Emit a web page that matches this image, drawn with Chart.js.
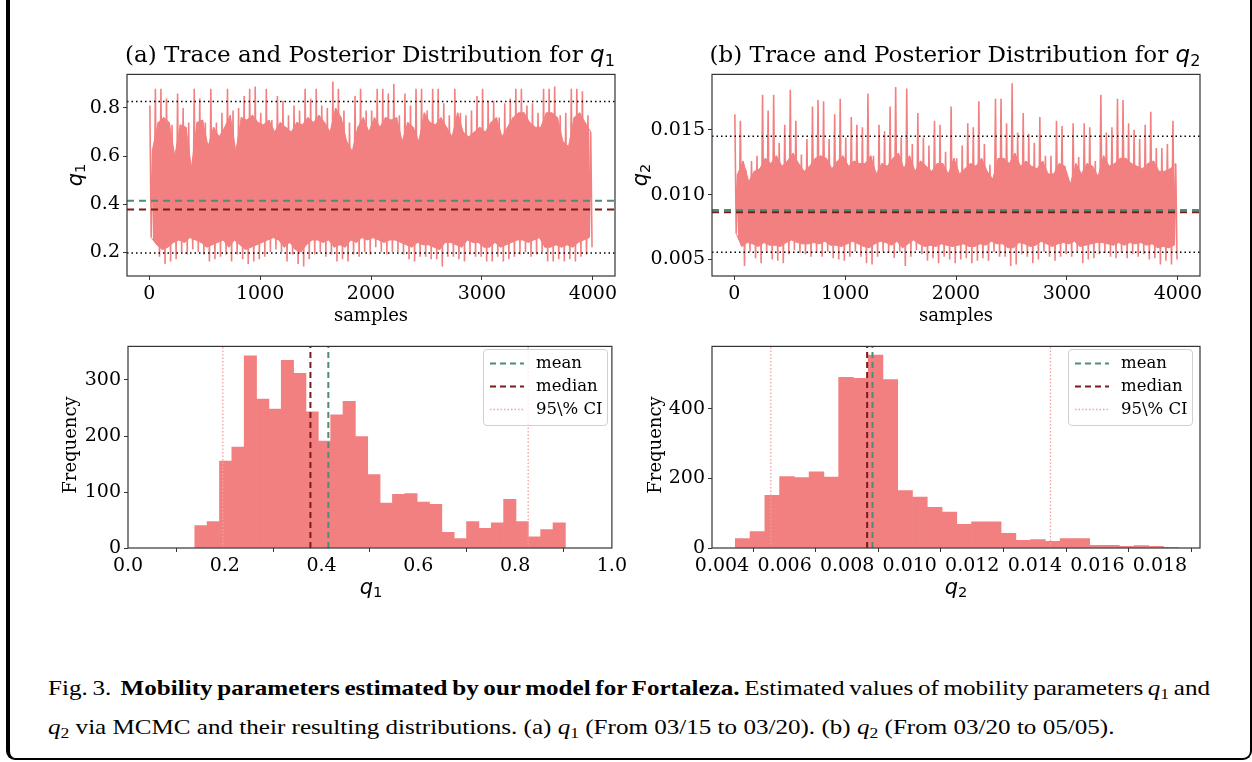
<!DOCTYPE html>
<html>
<head>
<meta charset="utf-8">
<script src="https://cdn.jsdelivr.net/npm/chart.js@4.4.1/dist/chart.umd.min.js"></script>
<style>
  body { margin: 0; background: #fff; }
  #page { position: relative; width: 1252px; height: 762px; overflow: hidden; background: #fff; }
  #frame { position: absolute; left: 6px; top: -20px; width: 1240px; height: 778px;
    border-left: 4px solid #000; border-right: 2px solid #000; border-bottom: 2px solid #000;
    border-bottom-left-radius: 9px; border-bottom-right-radius: 9px; }
  canvas { position: absolute; }
  .txt { position: absolute; font-family: "DejaVu Serif", serif; color: #000; white-space: nowrap;
    line-height: 1; transform: translate(-50%, -50%); }
  .rot { transform: translate(-50%, -50%) rotate(-90deg); }
  .title { font-size: 23px; }
  .lab { font-size: 18px; }
  .ml { font-size: 21px; }
  .m { font-family: "DejaVu Sans", sans-serif; font-style: italic; }
  .m sub { font-style: normal; font-size: 70%; vertical-align: -0.25em; line-height: 0; }
  .legend { position: absolute; border: 1px solid #d0d0d0; border-radius: 4px; background: rgba(255,255,255,0.8);
    font-family: "DejaVu Serif", serif; font-size: 16.5px; }
  .legend div { position: absolute; left: 0; height: 20px; line-height: 20px; white-space: nowrap; }
  .legend svg { position: absolute; left: 6px; top: 9px; }
  .legend span { position: absolute; left: 52px; top: 0; }
  .cap { position: absolute; left: 48px; font-family: "Liberation Serif", "Times New Roman", serif;
    font-size: 22px; line-height: 1; white-space: nowrap; transform: scaleX(1.14); transform-origin: 0 0; }
  .cap i { font-style: italic; }
  .cap sub { font-size: 70%; vertical-align: -0.25em; line-height: 0; }
</style>
</head>
<body>
<div id="page">
  <div id="frame"></div>
  <canvas id="traceA" width="603" height="256"></canvas>
  <canvas id="traceB" width="603" height="256"></canvas>
  <canvas id="histA" width="603" height="256"></canvas>
  <canvas id="histB" width="603" height="256"></canvas>

  <div class="txt title" style="left:370px; top:54px;">(a) Trace and Posterior Distribution for <span class="m">q<sub>1</sub></span></div>
  <div class="txt title" style="left:955px; top:54px;">(b) Trace and Posterior Distribution for <span class="m">q<sub>2</sub></span></div>
  <div class="txt lab" style="left:371px; top:315px;">samples</div>
  <div class="txt lab" style="left:956px; top:315px;">samples</div>
  <div class="txt ml rot" style="left:75px; top:175px;"><span class="m">q<sub>1</sub></span></div>
  <div class="txt ml rot" style="left:640px; top:175px;"><span class="m">q<sub>2</sub></span></div>
  <div class="txt lab rot" style="left:70px; top:445px;">Frequency</div>
  <div class="txt lab rot" style="left:655px; top:445px;">Frequency</div>
  <div class="txt ml" style="left:371px; top:587px;"><span class="m">q<sub>1</sub></span></div>
  <div class="txt ml" style="left:956px; top:587px;"><span class="m">q<sub>2</sub></span></div>

  <div class="legend" id="legA" style="left:483px; top:349px; width:123px; height:75px;"></div>
  <div class="legend" id="legB" style="left:1068px; top:349px; width:123px; height:75px;"></div>

  <div class="cap" style="top:677px; word-spacing:-1.4px;">Fig. 3.&nbsp; <b>Mobility parameters estimated by our model for Fortaleza.</b> Estimated values of mobility parameters <i>q</i><sub>1</sub> and</div>
  <div class="cap" style="top:716px;"><i>q</i><sub>2</sub> via MCMC and their resulting distributions. (a) <i>q</i><sub>1</sub> (From 03/15 to 03/20). (b) <i>q</i><sub>2</sub> (From 03/20 to 05/05).</div>
</div>

<script>
// trace read off per block of 50 samples: extreme high, extreme low,
// and the upper / lower edge of the dense part of the band
const traceBin = 50;
const q1TraceHi = [0.81,0.88,0.88,0.84,0.73,0.86,0.80,0.74,0.88,0.84, 0.74,0.88,0.74,0.78,0.88,0.79,0.80,0.85,0.88,0.89,
  0.78,0.88,0.75,0.85,0.83,0.77,0.81,0.79,0.88,0.84, 0.88,0.81,0.80,0.91,0.88,0.79,0.74,0.85,0.88,0.79,
  0.79,0.88,0.88,0.86,0.90,0.77,0.86,0.81,0.88,0.88, 0.79,0.88,0.88,0.82,0.77,0.88,0.78,0.77,0.79,0.85,
  0.88,0.83,0.83,0.76,0.82,0.84,0.88,0.88,0.81,0.82, 0.78,0.88,0.88,0.89,0.77,0.78,0.88,0.88,0.87,0.77];
const q1TraceLo = [0.25,0.18,0.15,0.16,0.17,0.20,0.19,0.21,0.20,0.19, 0.16,0.17,0.18,0.19,0.16,0.19,0.17,0.15,0.16,0.17,
  0.18,0.20,0.21,0.20,0.16,0.19,0.15,0.14,0.17,0.19, 0.20,0.18,0.19,0.16,0.17,0.16,0.19,0.18,0.20,0.19,
  0.22,0.20,0.19,0.20,0.20,0.19,0.17,0.16,0.18,0.18, 0.17,0.17,0.14,0.18,0.18,0.17,0.16,0.19,0.18,0.18,
  0.16,0.16,0.18,0.16,0.17,0.18,0.19,0.20,0.18,0.19, 0.20,0.16,0.16,0.17,0.16,0.17,0.16,0.18,0.19,0.22];
const q1DenseHi = [0.63,0.74,0.76,0.74,0.60,0.73,0.72,0.55,0.74,0.75, 0.64,0.72,0.68,0.72,0.77,0.62,0.76,0.75,0.77,0.74,
  0.73,0.75,0.70,0.74,0.72,0.70,0.74,0.73,0.76,0.74, 0.77,0.74,0.70,0.80,0.76,0.66,0.62,0.72,0.76,0.70,
  0.76,0.72,0.76,0.75,0.76,0.66,0.74,0.72,0.66,0.78, 0.74,0.73,0.76,0.72,0.68,0.78,0.70,0.68,0.70,0.72,
  0.70,0.74,0.76,0.68,0.72,0.76,0.78,0.78,0.74,0.72, 0.72,0.78,0.78,0.76,0.66,0.64,0.76,0.78,0.74,0.70];
const q1DenseLo = [0.26,0.23,0.21,0.22,0.24,0.25,0.24,0.26,0.25,0.24, 0.22,0.23,0.24,0.25,0.22,0.25,0.23,0.21,0.22,0.23,
  0.24,0.25,0.26,0.25,0.22,0.24,0.21,0.20,0.23,0.25, 0.25,0.24,0.25,0.22,0.23,0.22,0.25,0.24,0.26,0.25,
  0.26,0.25,0.24,0.25,0.25,0.24,0.23,0.22,0.24,0.23, 0.23,0.22,0.21,0.24,0.24,0.23,0.22,0.25,0.24,0.24,
  0.22,0.22,0.24,0.22,0.23,0.24,0.25,0.25,0.24,0.25, 0.26,0.22,0.22,0.23,0.22,0.23,0.22,0.24,0.25,0.26];

const q2TraceHi = [0.0162,0.0157,0.0119,0.0126,0.0130,0.0177,0.0165,0.0177,0.0140,0.0154,
  0.0181,0.0157,0.0131,0.0143,0.0168,0.0173,0.0172,0.0143,0.0162,0.0174,
  0.0144,0.0160,0.0154,0.0152,0.0178,0.0130,0.0154,0.0149,0.0168,0.0183,
  0.0144,0.0182,0.0139,0.0163,0.0144,0.0138,0.0157,0.0154,0.0133,0.0168,
  0.0128,0.0138,0.0155,0.0152,0.0172,0.0139,0.0123,0.0174,0.0174,0.0155,
  0.0186,0.0148,0.0163,0.0147,0.0140,0.0160,0.0130,0.0130,0.0157,0.0153,
  0.0113,0.0155,0.0129,0.0155,0.0152,0.0126,0.0177,0.0148,0.0152,0.0174,
  0.0173,0.0155,0.0150,0.0143,0.0154,0.0164,0.0136,0.0136,0.0139,0.0157];
const q2TraceLo = [0.0065,0.0045,0.0056,0.0051,0.0047,0.0055,0.0050,0.0049,0.0047,0.0054,
  0.0057,0.0055,0.0054,0.0052,0.0055,0.0052,0.0056,0.0051,0.0050,0.0049,
  0.0052,0.0056,0.0052,0.0047,0.0046,0.0052,0.0056,0.0055,0.0051,0.0056,
  0.0045,0.0052,0.0057,0.0054,0.0049,0.0051,0.0047,0.0052,0.0050,0.0047,
  0.0050,0.0051,0.0047,0.0049,0.0051,0.0049,0.0056,0.0052,0.0052,0.0045,
  0.0046,0.0054,0.0052,0.0047,0.0050,0.0056,0.0052,0.0049,0.0052,0.0054,
  0.0052,0.0056,0.0047,0.0050,0.0051,0.0054,0.0055,0.0052,0.0051,0.0055,
  0.0051,0.0054,0.0052,0.0054,0.0050,0.0051,0.0046,0.0049,0.0046,0.0050];
const q2DenseHi = [0.0116,0.0126,0.0110,0.0118,0.0120,0.0128,0.0124,0.0130,0.0122,0.0126,
  0.0132,0.0124,0.0118,0.0122,0.0128,0.0130,0.0128,0.0120,0.0126,0.0130,
  0.0122,0.0126,0.0124,0.0124,0.0130,0.0116,0.0124,0.0122,0.0128,0.0132,
  0.0120,0.0130,0.0118,0.0126,0.0122,0.0118,0.0124,0.0124,0.0116,0.0128,
  0.0116,0.0120,0.0124,0.0122,0.0128,0.0118,0.0112,0.0128,0.0128,0.0124,
  0.0132,0.0122,0.0126,0.0122,0.0120,0.0126,0.0116,0.0116,0.0124,0.0122,
  0.0108,0.0124,0.0116,0.0124,0.0122,0.0114,0.0130,0.0122,0.0124,0.0128,
  0.0128,0.0124,0.0122,0.0120,0.0124,0.0126,0.0118,0.0118,0.0120,0.0124];
const q2DenseLo = [0.0070,0.0060,0.0063,0.0062,0.0060,0.0063,0.0061,0.0061,0.0060,0.0063,
  0.0065,0.0063,0.0062,0.0062,0.0063,0.0062,0.0064,0.0061,0.0061,0.0060,
  0.0062,0.0064,0.0062,0.0060,0.0059,0.0062,0.0064,0.0063,0.0061,0.0064,
  0.0059,0.0062,0.0065,0.0062,0.0060,0.0061,0.0060,0.0062,0.0061,0.0060,
  0.0061,0.0062,0.0060,0.0060,0.0062,0.0061,0.0064,0.0062,0.0062,0.0059,
  0.0059,0.0063,0.0062,0.0060,0.0061,0.0064,0.0062,0.0060,0.0062,0.0063,
  0.0062,0.0064,0.0060,0.0061,0.0062,0.0063,0.0063,0.0062,0.0061,0.0063,
  0.0061,0.0063,0.0062,0.0063,0.0061,0.0062,0.0059,0.0060,0.0059,0.0061];

// summary statistics
const q1Mean = 0.414, q1Median = 0.377, q1CI = [0.196, 0.827];
const q2Mean = 0.00881, q2Median = 0.00864, q2CI = [0.00556, 0.0145];

// histograms (30 bins each)
const q1BinStart = 0.138, q1BinWidth = 0.02553;
const q1Counts = [40,47,155,180,343,266,248,335,312,243, 191,238,262,199,131,80,96,97,82,78,
  28,17,47,35,45,87,47,20,33,45];
const q2BinStart = 0.004425, q2BinWidth = 0.000472;
const q2Counts = [27,47,151,205,202,219,204,490,487,554, 484,165,146,117,103,68,75,75,42,22,
  24,19,27,27,8,8,5,7,5,2];

// axis ranges and ticks
const traceX = [-200, 4200], traceXTicks = [0, 1000, 2000, 3000, 4000];
const q1TraceY = [0.1, 0.94], q1TraceYTicks = [0.2, 0.4, 0.6, 0.8];
const q2TraceY = [0.00372, 0.01928], q2TraceYTicks = [0.005, 0.010, 0.015];
const q1HistX = [0, 1], q1HistXTicks = [0.0, 0.2, 0.4, 0.6, 0.8, 1.0];
const q1HistY = [0, 360], q1HistYTicks = [0, 100, 200, 300];
const q2HistX = [0.00368, 0.01928], q2HistXTicks = [0.004, 0.006, 0.008, 0.010, 0.012, 0.014, 0.016, 0.018];
const q2HistY = [0, 579], q2HistYTicks = [0, 200, 400];

const pink = '#F28080';
const meanColor = '#4F8A7B';
const medianColor = '#7A1A1A';
const ciColor = '#F4A0A0';
const tickFont = { family: 'DejaVu Serif', size: 19 };

const Y_W = 90, X_H = 40, PAD_T = 10, PAD_R = 15;

function placeCanvas(id, l, t, r, b) {
  const c = document.getElementById(id);
  c.width = (r - l) + Y_W + PAD_R;
  c.height = (b - t) + PAD_T + X_H;
  c.style.left = (l - Y_W) + 'px';
  c.style.top = (t - PAD_T) + 'px';
  return c;
}

function axis(range, ticks, dec, isX) {
  return {
    type: 'linear',
    min: range[0],
    max: range[1],
    offset: false,
    afterBuildTicks: s => { s.ticks = ticks.map(v => ({ value: v })); },
    afterFit: s => { if (isX) s.height = X_H; else s.width = Y_W; },
    grid: { drawOnChartArea: false, drawTicks: true, tickLength: 4, color: '#333', lineWidth: 1 },
    border: { display: false },
    ticks: { font: tickFont, color: '#000', padding: 3, maxRotation: 0, autoSkip: false,
      callback: v => v.toFixed(dec) }
  };
}

const spines = {
  id: 'spines',
  afterDatasetsDraw(chart) {
    const { ctx, chartArea: a } = chart;
    ctx.save();
    ctx.strokeStyle = '#333';
    ctx.lineWidth = 1.2;
    ctx.strokeRect(a.left, a.top, a.right - a.left, a.bottom - a.top);
    ctx.restore();
  }
};

function line(data, color, width, dash, order) {
  return { type: 'line', data: data, borderColor: color, borderWidth: width, borderDash: dash,
    pointRadius: 0, fill: false, tension: 0, order: order };
}

function hLine(v, x, color, width, dash) {
  return line([{ x: x[0], y: v }, { x: x[1], y: v }], color, width, dash, 1);
}
function vLine(v, y, color, width, dash) {
  return line([{ x: v, y: y[0] }, { x: v, y: y[1] }], color, width, dash, 1);
}

function traceChart(id, box, hi, lo, denseHi, denseLo, mean, median, ci, yRange, yTicks, dec) {
  const pts = [], top = [], bottom = [];
  hi.forEach((h, i) => {
    const s = i * traceBin;
    pts.push({ x: s + 6, y: h });
    pts.push({ x: s + 18, y: denseLo[i] });
    pts.push({ x: s + 31, y: denseHi[i] });
    pts.push({ x: s + 43, y: lo[i] });
    top.push({ x: s + 31, y: denseHi[i] });
    bottom.push({ x: s + 18, y: denseLo[i] });
  });
  // dense band: area between the two dense edges
  const band = line(top, pink, 1, [], 11);
  band.fill = '+1';
  band.backgroundColor = pink;
  const c = placeCanvas(id, ...box);
  new Chart(c, {
    type: 'line',
    data: { datasets: [
      hLine(ci[1], traceX, '#000', 1.5, [1.5, 3]),
      hLine(ci[0], traceX, '#000', 1.5, [1.5, 3]),
      hLine(mean, traceX, meanColor, 2, [7, 5]),
      hLine(median, traceX, medianColor, 2, [7, 5]),
      line(pts, pink, 1.6, [], 10),
      band,
      line(bottom, pink, 1, [], 12)
    ] },
    options: {
      responsive: false, animation: false, devicePixelRatio: 1,
      layout: { padding: { top: PAD_T, right: PAD_R, left: 0, bottom: 0 } },
      plugins: { legend: { display: false }, tooltip: { enabled: false } },
      scales: {
        x: axis(traceX, traceXTicks, 0, true),
        y: axis(yRange, yTicks, dec, false)
      }
    },
    plugins: [spines]
  });
}

function histChart(id, box, start, width, counts, mean, median, ci, xRange, xTicks, xDec, yRange, yTicks) {
  const bars = counts.map((v, i) => ({ x: start + (i + 0.5) * width, y: v }));
  const c = placeCanvas(id, ...box);
  new Chart(c, {
    type: 'bar',
    data: { datasets: [
      vLine(mean, yRange, meanColor, 2, [6, 4]),
      vLine(median, yRange, medianColor, 2, [6, 4]),
      vLine(ci[0], yRange, ciColor, 1.3, [1.5, 2]),
      vLine(ci[1], yRange, ciColor, 1.3, [1.5, 2]),
      { type: 'bar', data: bars, backgroundColor: pink, borderWidth: 0,
        barPercentage: 1, categoryPercentage: 1, order: 10 }
    ] },
    options: {
      responsive: false, animation: false, devicePixelRatio: 1,
      layout: { padding: { top: PAD_T, right: PAD_R, left: 0, bottom: 0 } },
      plugins: { legend: { display: false }, tooltip: { enabled: false } },
      scales: {
        x: axis(xRange, xTicks, xDec, true),
        y: axis(yRange, yTicks, 0, false)
      }
    },
    plugins: [spines]
  });
}

function buildLegend(id) {
  const items = [
    ['mean', meanColor, '6,4', 2],
    ['median', medianColor, '6,4', 2],
    ['95\\% CI', ciColor, '1.5,2', 1.3]
  ];
  const el = document.getElementById(id);
  items.forEach((it, i) => {
    const row = document.createElement('div');
    row.style.top = (3 + i * 23) + 'px';
    row.innerHTML = `<svg width="34" height="3"><line x1="0" y1="1.5" x2="34" y2="1.5" stroke="${it[1]}" stroke-width="${it[3]}" stroke-dasharray="${it[2]}"/></svg><span>${it[0]}</span>`;
    el.appendChild(row);
  });
}

traceChart('traceA', [127, 70, 615, 276], q1TraceHi, q1TraceLo, q1DenseHi, q1DenseLo, q1Mean, q1Median, q1CI, q1TraceY, q1TraceYTicks, 1);
traceChart('traceB', [712, 70, 1200, 276], q2TraceHi, q2TraceLo, q2DenseHi, q2DenseLo, q2Mean, q2Median, q2CI, q2TraceY, q2TraceYTicks, 3);
histChart('histA', [128, 342, 615, 548], q1BinStart, q1BinWidth, q1Counts, q1Mean, q1Median, q1CI, q1HistX, q1HistXTicks, 1, q1HistY, q1HistYTicks);
histChart('histB', [712, 342, 1200, 548], q2BinStart, q2BinWidth, q2Counts, q2Mean, q2Median, q2CI, q2HistX, q2HistXTicks, 3, q2HistY, q2HistYTicks);
buildLegend('legA');
buildLegend('legB');
</script>
</body>
</html>
